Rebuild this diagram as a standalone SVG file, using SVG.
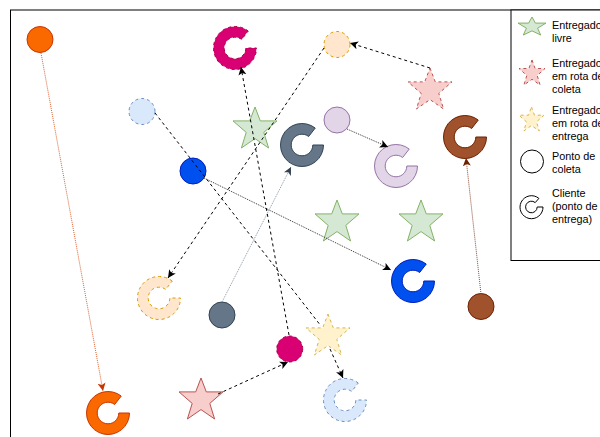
<svg xmlns="http://www.w3.org/2000/svg" xmlns:xlink="http://www.w3.org/1999/xlink" width="600" height="437" viewBox="0 0 600 437">
<style>
.lbl{font-family:"Liberation Sans",Arial,sans-serif;font-size:10.8px;fill:#000}
.dash{stroke-dasharray:3 3}
.dot{stroke-dasharray:1 1}
.green{fill:#d5e8d4;stroke:#82b366}
.red{fill:#f8cecc;stroke:#b85450}
.yellow{fill:#fff2cc;stroke:#d6b656}
.lorange{fill:#ffe6cc;stroke:#d79b00}
.lblue{fill:#dae8fc;stroke:#6c8ebf}
.purple{fill:#e1d5e7;stroke:#9673a6}
.magenta{fill:#d80073;stroke:#A50040}
.orange{fill:#fa6800;stroke:#C73500}
.blue{fill:#0050ef;stroke:#001DBC}
.slate{fill:#647687;stroke:#314354}
.brown{fill:#a0522d;stroke:#6D1F00}
.edge{fill:none;stroke-width:1}
</style>
<defs>
<polygon id="star" points="22,0 27.3,13.9 44,13.9 30.8,25.4 35.6,41 22,31.6 8.4,41 13.2,25.4 0,13.9 16.7,13.9"/>
<path id="cshape" d="M13.24,-16.94 A21.5,21.5 0 1 0 21.5,0 L10.8,0 A10.8,10.8 0 1 1 6.65,-8.51 Z"/>
<marker id="aBlack" markerUnits="userSpaceOnUse" markerWidth="10" markerHeight="10" refX="8" refY="4" orient="auto"><path d="M0,0 L8,4 L0,8 L2,4 Z" fill="#000"/></marker>
<marker id="aOrange" markerUnits="userSpaceOnUse" markerWidth="10" markerHeight="10" refX="8" refY="4" orient="auto"><path d="M0,0 L8,4 L0,8 L2,4 Z" fill="#C73500"/></marker>
<marker id="aBrown" markerUnits="userSpaceOnUse" markerWidth="10" markerHeight="10" refX="8" refY="4" orient="auto"><path d="M0,0 L8,4 L0,8 L2,4 Z" fill="#6D1F00"/></marker>
<marker id="aSlate" markerUnits="userSpaceOnUse" markerWidth="10" markerHeight="10" refX="8" refY="4" orient="auto"><path d="M0,0 L8,4 L0,8 L2,4 Z" fill="#314354"/></marker>
</defs>
<rect x="0" y="0" width="600" height="437" fill="#fff"/>
<rect id="frame" x="10.5" y="10" width="600" height="440" fill="none" stroke="#000"/>

<g id="legend">
<rect x="511" y="10" width="100" height="250.5" fill="#fff" stroke="#000"/>
<polygon class="green" points="532,17 535.4,23.1 546,23.1 537.6,28.2 540.7,35 532,30.9 523.3,35 526.4,28.2 518,23.1 528.6,23.1"/>
<text class="lbl" x="552" y="29">Entregado</text><text class="lbl" x="552" y="42">livre</text>
<polygon class="red dash" points="532,60 535.1,68.5 545,68.5 537.2,75.5 540.1,85 532,79.3 523.9,85 526.8,75.5 519,68.5 528.9,68.5"/>
<text class="lbl" x="552" y="67">Entregado</text><text class="lbl" x="552" y="80">em rota de</text><text class="lbl" x="552" y="93">coleta</text>
<polygon class="yellow dash" points="531.5,107 534.5,115.2 544,115.2 536.5,121.9 539.3,131 531.5,125.5 523.8,131 526.5,121.9 519,115.2 528.5,115.2"/>
<text class="lbl" x="552" y="114">Entregado</text><text class="lbl" x="552" y="127">em rota de</text><text class="lbl" x="552" y="140">entrega</text>
<circle cx="532" cy="161.5" r="11.5" fill="#fff" stroke="#000"/>
<text class="lbl" x="552" y="160">Ponto de</text><text class="lbl" x="552" y="173">coleta</text>
<path d="M538.9,198.4 A11.5,11.5 0 1 0 543,207 L537.2,207 A5.8,5.8 0 1 1 535.2,202.6 Z" fill="#fff" stroke="#000"/>
<text class="lbl" x="552" y="197">Cliente</text><text class="lbl" x="552" y="210">(ponto de</text><text class="lbl" x="552" y="223">entrega)</text>
</g>

<g id="star-green-1"><use xlink:href="#star" class="green" transform="translate(233,107)"/></g>
<g id="star-green-2"><use xlink:href="#star" class="green" transform="translate(315,200)"/></g>
<g id="star-green-3"><use xlink:href="#star" class="green" transform="translate(399,200)"/></g>
<g id="star-red-top"><use xlink:href="#star" class="red dash" transform="translate(408,68)"/></g>
<g id="star-yellow"><use xlink:href="#star" class="yellow dash" transform="translate(306,314)"/></g>
<g id="star-red-bottom"><use xlink:href="#star" class="red" transform="translate(179,378)"/></g>

<g id="p-orange"><circle cx="40" cy="39.5" r="13" class="orange"/></g>
<g id="p-lblue"><circle cx="142" cy="111.5" r="13" class="lblue dash"/></g>
<g id="p-blue"><circle cx="193" cy="171" r="13" class="blue"/></g>
<g id="p-lorange"><circle cx="337" cy="44.5" r="13" class="lorange dash"/></g>
<g id="p-purple"><circle cx="337" cy="120" r="13" class="purple"/></g>
<g id="p-slate"><circle cx="222" cy="315" r="13" class="slate"/></g>
<g id="p-magenta"><circle cx="289.7" cy="349" r="13" class="magenta dash"/></g>
<g id="p-brown"><circle cx="481" cy="306.5" r="13" class="brown"/></g>

<g id="c-magenta"><use xlink:href="#cshape" class="magenta dash" transform="translate(235,48)"/></g>
<g id="c-slate"><use xlink:href="#cshape" class="slate" transform="translate(302,145)"/></g>
<g id="c-purple"><use xlink:href="#cshape" class="purple" transform="translate(396,166)"/></g>
<g id="c-brown"><use xlink:href="#cshape" class="brown" transform="translate(465,137)"/></g>
<g id="c-blue"><use xlink:href="#cshape" class="blue" transform="translate(413,281)"/></g>
<g id="c-lorange"><use xlink:href="#cshape" class="lorange dash" transform="translate(159,298)"/></g>
<g id="c-orange"><use xlink:href="#cshape" class="orange" transform="translate(108,413)"/></g>
<g id="c-lblue"><use xlink:href="#cshape" class="lblue dash" transform="translate(345,400)"/></g>

<g id="connectors">
<path class="edge" d="M41,53 L103,391" stroke="#E0612F" stroke-dasharray="1 1" marker-end="url(#aOrange)"/>
<path class="edge dash" d="M155,113 L321,326" stroke="#000"/>
<path class="edge dash" d="M330,349 L343,378" stroke="#000" marker-end="url(#aBlack)"/>
<path class="edge dot" d="M204,178 L391,270" stroke="#333" marker-end="url(#aBlack)"/>
<path class="edge dot" d="M347,129 L388,147" stroke="#333" marker-end="url(#aBlack)"/>
<path class="edge" d="M222,302 L291,167" stroke="#8a97a4" stroke-dasharray="1 1" marker-end="url(#aSlate)"/>
<path class="edge" d="M481,294 L466,158" stroke="#8B4A35" stroke-dasharray="1 1" marker-end="url(#aBrown)"/>
<path class="edge dash" d="M430,68 L350,43" stroke="#000" marker-end="url(#aBlack)"/>
<path class="edge dash" d="M324,48 L168,278" stroke="#000" marker-end="url(#aBlack)"/>
<path class="edge dash" d="M289,335 L241,67" stroke="#000" marker-end="url(#aBlack)"/>
<path class="edge dash" d="M218,394 L288,362" stroke="#000" marker-end="url(#aBlack)"/>
</g>
</svg>
